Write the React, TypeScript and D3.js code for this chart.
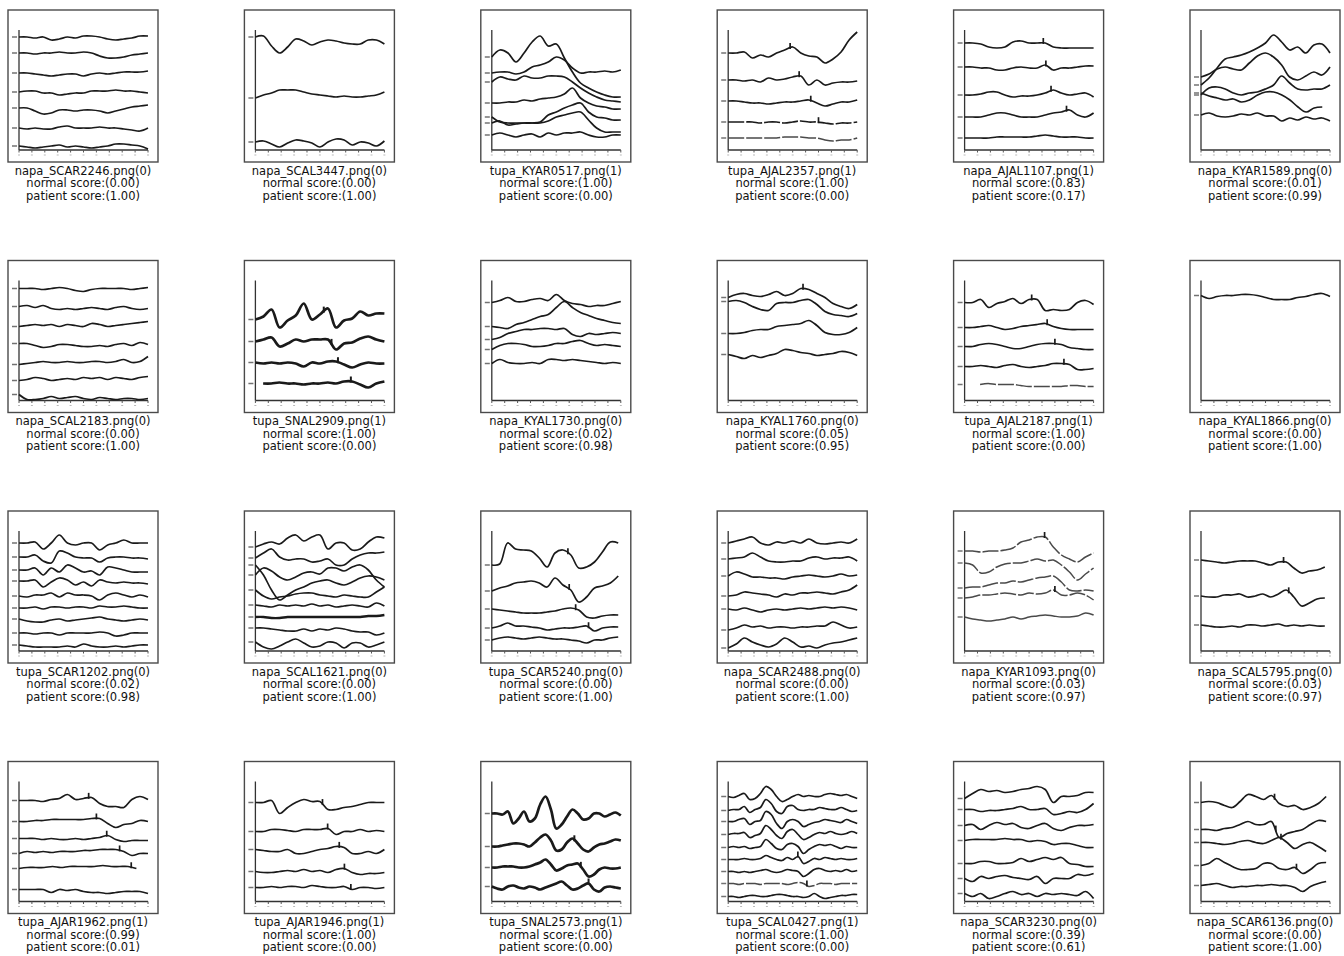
import React from 'react';
import * as d3 from 'd3';

// ---------- recording metadata ----------
const fileNames = [
  'napa_SCAR2246', 'napa_SCAL3447', 'tupa_KYAR0517', 'tupa_AJAL2357', 'napa_AJAL1107', 'napa_KYAR1589',
  'napa_SCAL2183', 'tupa_SNAL2909', 'napa_KYAL1730', 'napa_KYAL1760', 'tupa_AJAL2187', 'napa_KYAL1866',
  'tupa_SCAR1202', 'napa_SCAL1621', 'tupa_SCAR5240', 'napa_SCAR2488', 'napa_KYAR1093', 'napa_SCAL5795',
  'tupa_AJAR1962', 'tupa_AJAR1946', 'tupa_SNAL2573', 'tupa_SCAL0427', 'napa_SCAR3230', 'napa_SCAR6136',
];
const trueLabels = [0, 0, 1, 1, 1, 0, 0, 1, 0, 0, 1, 0, 0, 0, 0, 0, 0, 0, 1, 1, 1, 1, 0, 0];
const normalScores = [
  0.0, 0.0, 1.0, 1.0, 0.83, 0.01,
  0.0, 1.0, 0.02, 0.05, 1.0, 0.0,
  0.02, 0.0, 0.0, 0.0, 0.03, 0.03,
  0.99, 1.0, 1.0, 1.0, 0.39, 0.0,
];
const patientScores = [
  1.0, 1.0, 0.0, 0.0, 0.17, 0.99,
  1.0, 0.0, 0.98, 0.95, 0.0, 1.0,
  0.98, 1.0, 1.0, 1.0, 0.97, 0.97,
  0.01, 0.0, 0.0, 0.0, 0.61, 1.0,
];

// ---------- channel traces (amplitude units, evenly sampled over time 0..100) ----------
const wavesSCAR2246 = [
  [113, 113, 112, 113, 110, 111, 113, 112, 114, 114, 113, 111, 110, 111, 112, 114, 114],
  [97, 97, 96, 97, 97, 98, 97, 97, 98, 97, 94, 92, 92, 93, 95, 96, 97],
  [77, 77, 76, 75, 74, 75, 76, 76, 74, 76, 77, 76, 77, 78, 78, 78, 79],
  [58, 59, 59, 57, 57, 55, 56, 57, 57, 59, 59, 59, 60, 59, 59, 58, 57],
  [42, 42, 39, 36, 37, 40, 40, 39, 40, 40, 39, 37, 39, 41, 43, 44, 45],
  [22, 21, 22, 21, 21, 23, 24, 22, 22, 22, 23, 22, 22, 21, 20, 19, 22],
  [4, 3, 2, 3, 4, 5, 3, 4, 3, 2, 3, 4, 6, 6, 5, 4, 1],
];
const wavesSCAL3447 = [
  [113, 114, 104, 97, 103, 111, 109, 105, 108, 110, 109, 107, 106, 106, 110, 110, 106],
  [52, 55, 57, 60, 60, 60, 58, 56, 55, 54, 53, 54, 53, 53, 54, 55, 58],
  [8, 9, 6, 3, 7, 10, 9, 7, 3, 8, 11, 10, 5, 8, 7, 4, 9],
];
const wavesKYAR0517 = [
  [93, 100, 97, 88, 97, 108, 114, 104, 106, 92, 78, 67, 62, 58, 55, 53, 53],
  [77, 78, 78, 76, 78, 83, 85, 88, 93, 90, 82, 77, 78, 78, 79, 78, 80],
  [68, 73, 71, 70, 74, 72, 72, 74, 74, 73, 68, 62, 57, 53, 50, 49, 48],
  [47, 47, 48, 48, 50, 49, 51, 52, 53, 56, 62, 52, 47, 44, 43, 41, 41],
  [33, 28, 27, 27, 27, 27, 28, 35, 38, 42, 45, 47, 38, 33, 32, 30, 30],
  [27, 29, 25, 26, 27, 27, 27, 29, 33, 35, 37, 38, 30, 22, 18, 18, 18],
  [15, 17, 15, 13, 15, 16, 13, 17, 15, 17, 17, 18, 15, 13, 13, 15, 15],
];
const wavesAJAL2357 = [
  [97, 97, 98, 92, 95, 93, 97, 100, 103, 97, 94, 93, 87, 91, 98, 110, 118],
  [70, 70, 69, 70, 68, 72, 70, 71, 73, 74, 65, 70, 65, 67, 68, 68, 69],
  [49, 49, 48, 47, 47, 46, 47, 48, 48, 49, 50, 47, 44, 46, 48, 48, 50],
  [28, 28, 28, 28, 27, 28, 28, 27, 28, 29, 28, 28, 27, 26, 27, 27, 28],
  [12, 12, 12, 12, 12, 12, 12, 13, 13, 13, 12, 12, 10, 9, 10, 10, 12],
];
const wavesAJAL1107 = [
  [107, 107, 106, 103, 102, 103, 108, 109, 107, 107, 107, 103, 102, 102, 102, 102, 102],
  [83, 83, 82, 82, 80, 80, 82, 83, 82, 82, 85, 80, 82, 82, 83, 84, 84],
  [55, 55, 56, 58, 58, 55, 53, 54, 54, 55, 57, 60, 57, 55, 56, 57, 53],
  [33, 33, 33, 35, 37, 37, 35, 33, 33, 33, 35, 37, 38, 40, 35, 33, 37],
  [12, 12, 12, 12, 13, 13, 13, 13, 13, 14, 15, 14, 13, 13, 13, 12, 12],
];
const wavesKYAR1589 = [
  [65, 72, 82, 91, 93, 95, 98, 102, 107, 115, 108, 100, 103, 97, 105, 106, 97],
  [73, 76, 81, 83, 81, 80, 87, 94, 97, 93, 85, 73, 70, 74, 78, 75, 83],
  [55, 62, 63, 61, 57, 55, 57, 58, 61, 65, 74, 67, 61, 60, 61, 61, 65],
  [57, 54, 52, 50, 51, 48, 50, 55, 58, 58, 55, 50, 43, 38, 42, 43],
  [35, 37, 34, 33, 34, 36, 35, 37, 34, 34, 29, 32, 30, 33, 31, 32, 29],
];
const wavesSCAL2183 = [
  [112, 112, 112, 111, 112, 113, 112, 110, 109, 111, 112, 112, 112, 112, 111, 112, 113],
  [94, 95, 93, 95, 92, 91, 92, 91, 92, 93, 92, 91, 93, 94, 92, 91, 92],
  [74, 75, 76, 75, 76, 74, 76, 75, 74, 77, 76, 74, 75, 76, 77, 78, 79],
  [57, 57, 55, 53, 54, 56, 56, 55, 54, 54, 55, 54, 56, 57, 55, 58, 56],
  [36, 37, 38, 39, 38, 38, 39, 38, 38, 39, 39, 38, 39, 41, 38, 39, 44],
  [20, 21, 23, 22, 20, 21, 22, 21, 23, 22, 23, 21, 23, 22, 21, 23, 24],
  [6, 1, 1, 2, 4, 2, 3, 4, 2, 1, 3, 2, 1, 2, 2, 1, 2],
];
const wavesSNAL2909 = [
  [81, 84, 91, 73, 80, 85, 97, 81, 86, 92, 73, 80, 82, 89, 85, 87, 87],
  [59, 61, 63, 54, 57, 61, 59, 61, 61, 61, 51, 57, 58, 62, 64, 61, 59],
  [38, 37, 38, 37, 38, 37, 34, 38, 37, 39, 39, 36, 33, 36, 38, 37, 37],
  [17, 17, 18, 17, 17, 16, 17, 17, 18, 17, 19, 19, 16, 13, 17, 19],
];
const wavesKYAL1730 = [
  [98, 100, 103, 99, 99, 101, 102, 100, 106, 100, 97, 96, 94, 95, 95, 97, 99],
  [74, 73, 72, 76, 78, 81, 84, 86, 93, 99, 93, 88, 85, 82, 80, 78, 77],
  [61, 63, 67, 69, 71, 71, 72, 72, 71, 72, 66, 64, 67, 66, 67, 68, 67],
  [51, 55, 57, 57, 56, 54, 54, 55, 57, 57, 59, 60, 57, 55, 56, 55, 54],
  [37, 41, 38, 37, 37, 38, 37, 41, 41, 40, 41, 40, 39, 38, 37, 38, 37],
];
const wavesKYAL1760 = [
  [103, 106, 107, 105, 104, 106, 109, 105, 107, 112, 111, 107, 103, 97, 94, 92, 96],
  [99, 100, 98, 94, 91, 90, 97, 98, 98, 100, 101, 96, 89, 86, 85, 84, 87],
  [67, 67, 68, 70, 71, 71, 74, 75, 76, 77, 80, 75, 68, 66, 66, 68, 73],
  [46, 44, 42, 45, 43, 45, 47, 51, 50, 48, 47, 45, 46, 47, 49, 48, 45],
];
const wavesAJAL2187 = [
  [98, 98, 101, 93, 97, 99, 102, 97, 101, 101, 90, 91, 90, 91, 98, 100, 96],
  [73, 73, 74, 75, 73, 71, 72, 74, 75, 76, 77, 74, 72, 71, 71, 71, 71],
  [54, 54, 56, 57, 56, 54, 52, 52, 54, 56, 57, 57, 56, 53, 52, 51, 51],
  [34, 34, 35, 34, 33, 35, 36, 34, 33, 34, 35, 37, 37, 36, 31, 31, 32],
  [16, 17, 16, 16, 16, 15, 14, 14, 14, 14, 14, 15, 15, 14, 14],
];
const wavesKYAL1866 = [
  [105, 102, 104, 105, 105, 106, 106, 105, 103, 101, 101, 101, 103, 104, 106, 107, 104],
];
const wavesSCAR1202 = [
  [108, 108, 109, 102, 108, 116, 108, 106, 108, 108, 101, 106, 108, 111, 108, 108, 108],
  [94, 94, 96, 90, 88, 100, 98, 94, 93, 93, 89, 93, 94, 94, 93, 93, 92],
  [81, 81, 83, 76, 83, 79, 86, 83, 79, 80, 76, 84, 83, 81, 79, 79, 79],
  [70, 70, 71, 64, 69, 73, 71, 66, 69, 65, 71, 69, 68, 69, 68, 68, 67],
  [55, 54, 56, 56, 58, 54, 58, 56, 56, 55, 51, 56, 58, 56, 54, 56, 54],
  [43, 43, 44, 42, 44, 44, 43, 44, 44, 43, 45, 44, 44, 45, 44, 43, 43],
  [32, 30, 29, 29, 31, 32, 30, 31, 32, 33, 34, 32, 31, 30, 31, 32, 31],
  [18, 18, 17, 18, 18, 16, 18, 18, 18, 18, 19, 18, 15, 16, 18, 18, 18],
  [6, 5, 4, 4, 4, 4, 5, 4, 7, 5, 4, 4, 5, 4, 5, 6, 6],
];
const wavesSCAL1621 = [
  [104, 107, 109, 107, 113, 116, 110, 114, 116, 102, 108, 108, 101, 102, 109, 114, 113],
  [93, 98, 102, 94, 91, 92, 92, 89, 90, 92, 86, 86, 92, 96, 98, 98, 99],
  [86, 76, 61, 51, 56, 61, 64, 68, 70, 71, 68, 66, 69, 73, 75, 74, 71],
  [76, 83, 80, 74, 71, 74, 78, 79, 77, 83, 83, 80, 84, 86, 81, 71, 64],
  [61, 55, 52, 54, 55, 57, 58, 58, 56, 55, 54, 56, 55, 54, 54, 59, 64],
  [46, 45, 44, 46, 45, 46, 45, 47, 45, 46, 44, 45, 46, 45, 44, 48, 45],
  [34, 34, 33, 33, 34, 34, 34, 34, 34, 34, 34, 34, 34, 34, 35, 35, 36],
  [23, 23, 22, 21, 20, 20, 22, 20, 22, 21, 23, 22, 20, 19, 19, 16, 18],
  [9, 4, 2, 5, 9, 12, 8, 4, 5, 9, 8, 3, 8, 8, 4, 6, 9],
];
const wavesSCAR5240 = [
  [86, 87, 108, 102, 101, 100, 93, 84, 98, 101, 96, 83, 84, 89, 99, 109, 108],
  [60, 63, 65, 68, 69, 70, 68, 64, 73, 66, 61, 49, 54, 63, 65, 68, 75],
  [42, 41, 40, 39, 38, 38, 38, 39, 40, 42, 43, 41, 34, 33, 35, 36, 36],
  [23, 25, 28, 25, 25, 24, 23, 21, 22, 23, 23, 24, 25, 20, 23, 24, 24],
  [11, 13, 14, 13, 12, 13, 14, 13, 12, 12, 11, 10, 8, 11, 11, 13, 14],
];
const wavesSCAR2488 = [
  [108, 110, 112, 114, 108, 106, 109, 108, 110, 108, 112, 108, 107, 108, 109, 108, 112],
  [92, 93, 94, 98, 94, 90, 89, 89, 90, 90, 93, 94, 92, 93, 93, 94, 90],
  [75, 79, 77, 74, 74, 73, 73, 72, 74, 75, 76, 75, 74, 75, 77, 75, 76],
  [55, 56, 59, 58, 57, 56, 54, 57, 56, 58, 58, 59, 58, 57, 59, 61, 66],
  [42, 41, 43, 41, 39, 41, 42, 41, 42, 43, 42, 43, 44, 43, 44, 43, 41],
  [21, 23, 26, 24, 25, 23, 24, 24, 23, 24, 24, 25, 25, 29, 26, 23, 24],
  [3, 7, 13, 9, 6, 4, 7, 13, 9, 4, 5, 3, 6, 8, 9, 11, 13],
];
const wavesKYAR1093 = [
  [100, 100, 99, 100, 100, 101, 103, 109, 111, 114, 114, 104, 96, 92, 89, 94, 98],
  [88, 86, 78, 79, 84, 87, 88, 88, 90, 92, 90, 91, 86, 79, 71, 77, 83],
  [63, 64, 64, 66, 68, 68, 70, 69, 71, 73, 74, 75, 69, 61, 60, 61, 60],
  [53, 54, 56, 56, 57, 58, 57, 56, 58, 57, 58, 61, 56, 56, 58, 56, 51],
  [34, 32, 31, 30, 31, 32, 34, 32, 34, 35, 36, 35, 34, 34, 35, 38, 36],
];
const wavesSCAL5795 = [
  [91, 90, 89, 88, 89, 90, 90, 90, 88, 86, 89, 89, 83, 78, 80, 81, 84],
  [55, 54, 54, 56, 56, 57, 54, 55, 57, 54, 57, 61, 54, 45, 48, 52, 53],
  [26, 25, 24, 24, 25, 24, 26, 26, 25, 26, 27, 25, 26, 25, 26, 25, 25],
];
const wavesAJAR1962 = [
  [101, 101, 101, 100, 102, 103, 107, 102, 103, 104, 98, 95, 95, 94, 102, 105, 102],
  [80, 80, 81, 81, 82, 82, 82, 82, 82, 83, 83, 78, 74, 77, 78, 81, 80],
  [63, 63, 63, 62, 63, 62, 62, 63, 62, 63, 64, 66, 62, 60, 61, 61, 61],
  [48, 50, 49, 50, 49, 50, 50, 50, 51, 51, 52, 52, 52, 50, 46, 48, 48],
  [33, 34, 34, 34, 35, 34, 35, 35, 35, 35, 36, 35, 35, 35, 33],
  [12, 12, 12, 12, 9, 12, 11, 12, 10, 9, 9, 8, 9, 10, 10, 10, 8],
];
const wavesAJAR1946 = [
  [99, 99, 101, 88, 94, 99, 102, 100, 100, 92, 92, 94, 95, 97, 99, 99, 99],
  [70, 70, 72, 72, 71, 70, 72, 72, 72, 73, 67, 70, 70, 72, 70, 71, 70],
  [52, 51, 50, 50, 52, 48, 48, 50, 52, 53, 55, 54, 48, 48, 50, 48, 52],
  [30, 29, 29, 30, 31, 30, 32, 30, 31, 29, 32, 33, 29, 27, 28, 28, 29],
  [14, 14, 15, 14, 15, 15, 14, 16, 15, 14, 14, 15, 12, 14, 14, 13, 14],
];
const wavesSNAL2573 = [
  [88, 88, 87, 90, 78, 83, 90, 80, 83, 97, 105, 92, 73, 77, 85, 92, 88, 82, 83, 88, 88, 85, 87, 89, 86],
  [55, 55, 56, 57, 58, 58, 57, 55, 59, 64, 67, 61, 51, 52, 59, 63, 58, 52, 50, 54, 57, 58, 60, 62, 61],
  [34, 34, 35, 35, 35, 34, 34, 35, 37, 39, 42, 37, 31, 33, 36, 37, 38, 32, 25, 27, 32, 34, 33, 33, 34],
  [15, 13, 12, 15, 16, 14, 13, 15, 14, 12, 14, 16, 18, 20, 16, 12, 13, 16, 18, 12, 10, 14, 15, 14, 13],
];
const wavesSCAL0427 = [
  [105, 104, 106, 108, 102, 103, 108, 115, 112, 105, 100, 102, 105, 107, 105, 106, 105, 105, 107, 108, 107, 106, 107, 105, 103],
  [91, 92, 92, 95, 89, 92, 94, 102, 98, 90, 88, 95, 96, 92, 91, 92, 92, 94, 93, 92, 92, 94, 92, 90, 91],
  [80, 80, 82, 83, 77, 80, 81, 90, 87, 78, 73, 80, 82, 80, 75, 77, 79, 80, 82, 81, 80, 79, 82, 80, 78],
  [67, 68, 68, 69, 64, 66, 68, 76, 72, 66, 63, 70, 72, 67, 62, 64, 67, 69, 68, 70, 68, 67, 68, 70, 68],
  [54, 55, 54, 55, 53, 54, 55, 62, 58, 53, 52, 57, 58, 55, 48, 52, 55, 57, 56, 57, 55, 53, 55, 54, 54],
  [42, 42, 42, 43, 42, 42, 43, 46, 44, 42, 41, 44, 42, 45, 38, 40, 43, 42, 44, 43, 42, 43, 42, 42, 43],
  [30, 30, 29, 30, 29, 30, 31, 32, 30, 29, 30, 32, 31, 30, 25, 28, 32, 33, 31, 30, 31, 30, 32, 30, 31],
  [18, 18, 17, 18, 18, 18, 17, 18, 18, 18, 18, 17, 18, 19, 18, 15, 16, 18, 18, 18, 17, 18, 18, 18, 18],
  [5, 5, 4, 5, 6, 6, 5, 5, 6, 7, 7, 6, 5, 5, 4, 5, 8, 5, 3, 4, 5, 6, 6, 7, 7],
];
const wavesSCAR3230 = [
  [103, 108, 112, 110, 111, 109, 110, 112, 113, 115, 112, 99, 105, 105, 106, 109, 109],
  [92, 92, 90, 91, 91, 92, 93, 95, 92, 92, 93, 87, 88, 90, 89, 92, 98],
  [76, 77, 72, 76, 79, 77, 78, 74, 73, 76, 78, 73, 71, 74, 76, 76, 77],
  [61, 62, 62, 62, 62, 63, 62, 62, 60, 61, 60, 57, 58, 58, 56, 54, 54],
  [38, 38, 40, 40, 38, 38, 39, 43, 40, 42, 44, 42, 44, 38, 37, 35, 35],
  [23, 20, 25, 23, 25, 26, 24, 23, 22, 25, 18, 23, 23, 23, 27, 26, 28],
  [8, 5, 8, 3, 5, 8, 10, 7, 8, 5, 8, 7, 8, 7, 6, 10, 3],
];
const wavesSCAR6136 = [
  [99, 100, 99, 96, 94, 100, 107, 105, 102, 106, 98, 95, 96, 92, 94, 98, 105],
  [72, 72, 71, 73, 74, 77, 80, 77, 77, 80, 64, 68, 70, 72, 77, 81, 80],
  [59, 59, 58, 57, 58, 60, 61, 59, 58, 61, 64, 59, 53, 57, 59, 55, 50],
  [36, 38, 43, 39, 35, 32, 32, 33, 38, 38, 33, 32, 34, 28, 32, 38, 39],
  [16, 17, 18, 16, 14, 15, 15, 16, 16, 17, 16, 16, 14, 10, 15, 18, 20],
];

const waveSets = [
  wavesSCAR2246, wavesSCAL3447, wavesKYAR0517, wavesAJAL2357, wavesAJAL1107, wavesKYAR1589,
  wavesSCAL2183, wavesSNAL2909, wavesKYAL1730, wavesKYAL1760, wavesAJAL2187, wavesKYAL1866,
  wavesSCAR1202, wavesSCAL1621, wavesSCAR5240, wavesSCAR2488, wavesKYAR1093, wavesSCAL5795,
  wavesAJAR1962, wavesAJAR1946, wavesSNAL2573, wavesSCAL0427, wavesSCAR3230, wavesSCAR6136,
];

// time spans of channels that do not cover the whole record: [channel, start, end]
const partialSpans: [number, number, number][][] = [
  [], [], [], [], [], [[3, 0, 94]],
  [], [[3, 6, 100]], [], [], [[4, 12, 100]], [],
  [], [], [[0, 0, 98], [1, 0, 98], [2, 0, 98], [3, 0, 98], [4, 0, 98]], [], [], [[0, 0, 96], [1, 0, 96], [2, 0, 96]],
  [[4, 0, 91]], [], [], [], [], [[0, 0, 97], [1, 0, 97], [2, 0, 97], [3, 0, 97], [4, 0, 97]],
];

// event markers on channels: [channel, time]
const eventMarks: [number, number][][] = [
  [], [], [], [[0, 48], [1, 55], [2, 64], [3, 70]], [[0, 61], [1, 63], [2, 67], [3, 79]], [],
  [], [[0, 53], [1, 59], [2, 64], [3, 74]], [], [[0, 58]], [[0, 52], [1, 64], [2, 70], [3, 77]], [],
  [], [], [[0, 59], [1, 60], [2, 65], [3, 75]], [], [[0, 62], [3, 70]], [[0, 64], [1, 68]],
  [[0, 54], [1, 60], [2, 68], [3, 78], [4, 87]], [[0, 52], [1, 56], [2, 65], [3, 69], [4, 74]], [[1, 64], [2, 69], [3, 75]], [[5, 54], [7, 61]], [], [[0, 57], [1, 58], [2, 62], [3, 74]],
];

// ---------- layout & style ----------
const COLS = 6;
const ORIGIN_X = 8;
const ORIGIN_Y = 10;
const CELL_W = 236.4;
const CELL_H = 250.5;
const BOX_W = 150;
const BOX_H = 152;
const FONT = "'DejaVu Sans', 'Liberation Sans', sans-serif";

const thickPanels = new Set([7, 20]);
const thickChannels: Record<number, number[]> = { 13: [6] };
const fadedChannels: Record<number, number[]> = { 3: [4], 10: [4], 16: [0, 1, 2, 3, 4], 21: [7] };
const brokenChannels: Record<number, number[]> = { 3: [3, 4], 10: [4], 16: [0, 1, 2, 3], 21: [7] };

const xScale = d3.scaleLinear().domain([0, 100]).range([11, 140]);
const yScale = d3.scaleLinear().domain([0, 120]).range([140, 20]);
const lineGen = d3
  .line<[number, number]>()
  .x((d) => xScale(d[0]))
  .y((d) => yScale(d[1]))
  .curve(d3.curveCatmullRom.alpha(0.5));

function spanOf(panel: number, ch: number): [number, number] {
  const s = partialSpans[panel].find((p) => p[0] === ch);
  return s ? [s[1], s[2]] : [0, 100];
}

function samplePoints(vals: number[], span: [number, number]): [number, number][] {
  const [a, b] = span;
  const n = vals.length;
  return vals.map((v, i) => [a + ((b - a) * i) / (n - 1), v]);
}

function valueAt(vals: number[], span: [number, number], t: number): number {
  const [a, b] = span;
  const p = ((t - a) / (b - a)) * (vals.length - 1);
  const i = Math.max(0, Math.min(vals.length - 2, Math.floor(p)));
  const f = p - i;
  return vals[i] * (1 - f) + vals[i + 1] * f;
}

function Panel({ idx }: { idx: number }) {
  const col = idx % COLS;
  const row = Math.floor(idx / COLS);
  const gx = ORIGIN_X + col * CELL_W;
  const gy = ORIGIN_Y + row * CELL_H;
  const waves = waveSets[idx];
  const baseWidth = thickPanels.has(idx) ? 2.7 : 1.7;
  const xTicks = xScale.ticks(10);

  return (
    <g transform={`translate(${gx},${gy})`}>
      <rect x={0} y={0} width={BOX_W} height={BOX_H} fill="#fff" stroke="#4a4a4a" strokeWidth={1.4} />
      {/* axes */}
      <line x1={xScale(0)} x2={xScale(0)} y1={yScale(120)} y2={yScale(0)} stroke="#333" strokeWidth={1.3} />
      <line x1={xScale(0)} x2={xScale(100)} y1={yScale(0)} y2={yScale(0)} stroke="#333" strokeWidth={1.3} />
      {xTicks.map((t) => (
        <line key={`xt${t}`} x1={xScale(t)} x2={xScale(t)} y1={yScale(0)} y2={yScale(0) + 2.5} stroke="#555" strokeWidth={1} />
      ))}
      {xTicks.map((t) => (
        <line key={`xl${t}`} x1={xScale(t) - 1} x2={xScale(t) + 1} y1={yScale(0) + 5} y2={yScale(0) + 5} stroke="#bbb" strokeWidth={1} />
      ))}
      {/* channel labels */}
      {waves.map((vals, ch) => (
        <line key={`yl${ch}`} x1={4} x2={9} y1={yScale(vals[0])} y2={yScale(vals[0])} stroke="#444" strokeWidth={1.5} opacity={0.75} />
      ))}
      {/* channel traces */}
      {waves.map((vals, ch) => {
        const span = spanOf(idx, ch);
        const faded = (fadedChannels[idx] || []).includes(ch);
        const broken = (brokenChannels[idx] || []).includes(ch);
        const thick = (thickChannels[idx] || []).includes(ch);
        return (
          <path
            key={`w${ch}`}
            d={lineGen(samplePoints(vals, span)) || ''}
            fill="none"
            stroke={faded ? '#4a4a4a' : '#1a1a1a'}
            strokeWidth={thick ? 2.4 : faded ? 1.5 : baseWidth}
            strokeDasharray={broken ? '16 2' : undefined}
            strokeLinejoin="round"
            strokeLinecap="butt"
          />
        );
      })}
      {/* event markers */}
      {eventMarks[idx].map(([ch, t], k) => {
        const vals = waves[ch];
        const yy = yScale(valueAt(vals, spanOf(idx, ch), t));
        return (
          <line key={`ev${k}`} x1={xScale(t)} x2={xScale(t)} y1={yy + 1} y2={yy - 5} stroke="#1a1a1a" strokeWidth={thickPanels.has(idx) ? 2 : 1.7} />
        );
      })}
      {/* caption */}
      <g fontFamily={FONT} fontSize={11.5} fill="#111" textAnchor="middle">
        <text x={BOX_W / 2} y={164.5}>{`${fileNames[idx]}.png(${trueLabels[idx]})`}</text>
        <text x={BOX_W / 2} y={177}>{`normal score:(${normalScores[idx].toFixed(2)})`}</text>
        <text x={BOX_W / 2} y={189.5}>{`patient score:(${patientScores[idx].toFixed(2)})`}</text>
      </g>
    </g>
  );
}

export default function App() {
  return (
    <svg
      width={1344}
      height={956}
      viewBox="0 0 1344 956"
      style={{ position: 'absolute', left: 0, top: 0, background: '#fff' }}
    >
      <rect x={0} y={0} width={1344} height={956} fill="#fff" />
      {fileNames.map((_, i) => (
        <Panel key={i} idx={i} />
      ))}
    </svg>
  );
}
